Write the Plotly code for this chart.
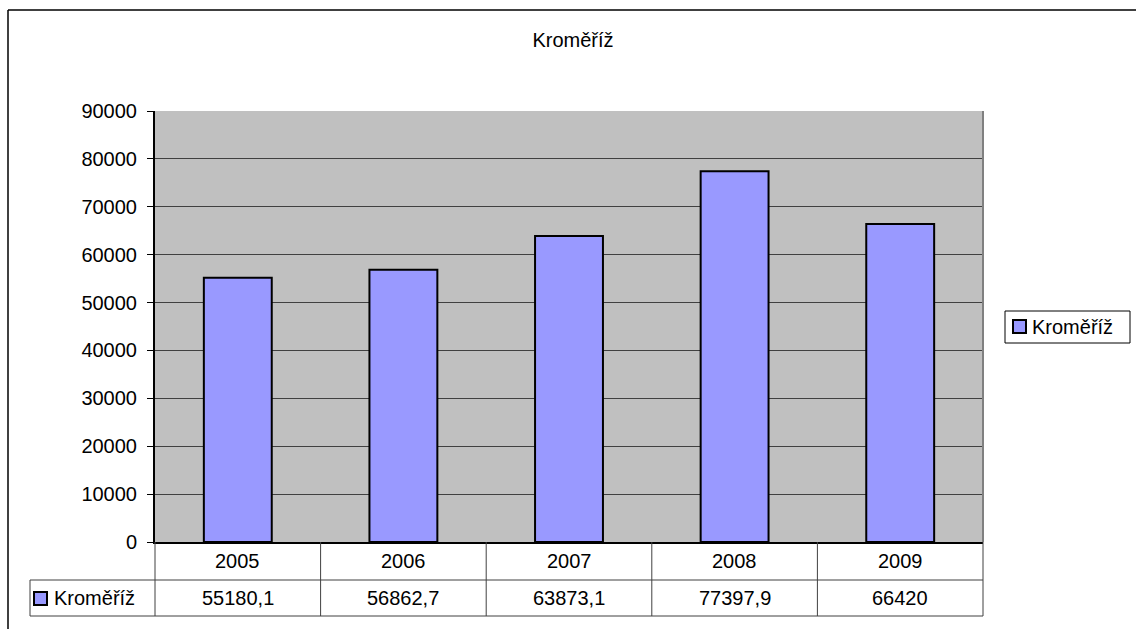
import plotly.graph_objects as go

# ---- data ----
years = ["2005", "2006", "2007", "2008", "2009"]
values = [55180.1, 56862.7, 63873.1, 77397.9, 66420]
series_name = "Kroměříž"
chart_title = "Kroměříž"
y_ticks = [0, 10000, 20000, 30000, 40000, 50000, 60000, 70000, 80000, 90000]

# ---- geometry (pixels) ----
W, H = 1136, 629
L, R, T, B = 155, 983, 111, 542

def px(x):
    return (x - L) / (R - L)

def py(y):
    return (B - y) / (B - T)

FONT = "Liberation Sans, Arial, sans-serif"
BAR = "#9999FF"
LINE = "#404040"

def fmt(v):
    return f"{v:g}".replace(".", ",")

fig = go.Figure(
    go.Bar(
        x=years,
        y=values,
        name=series_name,
        width=0.41,
        marker=dict(color=BAR, line=dict(color="black", width=2)),
        showlegend=False,
    )
)

shapes = []
annotations = []

# plot area right border
shapes.append(dict(type="line", xref="paper", yref="paper", x0=1, x1=1, y0=0, y1=1,
                   line=dict(color="#808080", width=2)))

# data table lines
for yy in (580, 616):
    shapes.append(dict(type="line", xref="paper", yref="paper", x0=px(30), x1=px(R),
                       y0=py(yy), y1=py(yy), line=dict(color=LINE, width=1)))
shapes.append(dict(type="line", xref="paper", yref="paper", x0=0, x1=0,
                   y0=py(B), y1=py(616), line=dict(color=LINE, width=1)))
shapes.append(dict(type="line", xref="paper", yref="paper", x0=1, x1=1,
                   y0=py(B), y1=py(616), line=dict(color=LINE, width=1)))
shapes.append(dict(type="line", xref="paper", yref="paper", x0=px(30), x1=px(30),
                   y0=py(580), y1=py(616), line=dict(color=LINE, width=1)))
for i in range(len(years) - 1):
    shapes.append(dict(type="line", xref="x", yref="paper", x0=i + 0.5, x1=i + 0.5,
                       y0=py(B), y1=py(616), line=dict(color=LINE, width=1)))

# table legend key
shapes.append(dict(type="rect", xref="paper", yref="paper", x0=px(34), x1=px(47),
                   y0=py(605), y1=py(592), fillcolor=BAR, line=dict(color="black", width=2)))
annotations.append(dict(text=series_name, xref="paper", yref="paper", x=px(52), y=py(598),
                        xanchor="left", yanchor="middle", showarrow=False,
                        font=dict(family=FONT, size=20, color="black")))

for i, (yr, v) in enumerate(zip(years, values)):
    annotations.append(dict(text=yr, xref="x", yref="paper", x=i, y=py(561),
                            xanchor="center", yanchor="middle", showarrow=False,
                            font=dict(family=FONT, size=20, color="black")))
    annotations.append(dict(text=fmt(v), xref="x", yref="paper", x=i, y=py(598),
                            xanchor="center", yanchor="middle", showarrow=False,
                            font=dict(family=FONT, size=20, color="black")))

# side legend (box, key, label)
shapes.append(dict(type="rect", xref="paper", yref="paper", x0=px(1005), x1=px(1130),
                   y0=py(343), y1=py(311), fillcolor="white", line=dict(color="black", width=1)))
shapes.append(dict(type="rect", xref="paper", yref="paper", x0=px(1013), x1=px(1026),
                   y0=py(333), y1=py(320), fillcolor=BAR, line=dict(color="black", width=2)))
annotations.append(dict(text=series_name, xref="paper", yref="paper", x=px(1030), y=py(327),
                        xanchor="left", yanchor="middle", showarrow=False,
                        font=dict(family=FONT, size=20, color="black")))

# outer chart border (left and top visible)
shapes.append(dict(type="line", xref="paper", yref="paper", x0=px(8), x1=px(8),
                   y0=py(10), y1=py(640), line=dict(color="black", width=1.5)))
shapes.append(dict(type="line", xref="paper", yref="paper", x0=px(8), x1=px(1140),
                   y0=py(10), y1=py(10), line=dict(color="black", width=1.5)))

fig.update_layout(
    width=W, height=H,
    margin=dict(l=L, r=W - R, t=T, b=H - B, pad=0),
    paper_bgcolor="white",
    plot_bgcolor="#C0C0C0",
    font=dict(family=FONT, size=20, color="black"),
    title=dict(text=chart_title, x=573 / W, y=1 - 40 / H, xref="container", yref="container",
               xanchor="center", yanchor="middle", font=dict(family=FONT, size=20, color="black")),
    showlegend=False,
    shapes=shapes,
    annotations=annotations,
)

fig.update_xaxes(type="category", range=[-0.5, len(years) - 0.5], showticklabels=False,
                 showline=True, linecolor="black", linewidth=2, ticks="", showgrid=False,
                 zeroline=False)
fig.update_yaxes(range=[0, 90000], tickvals=y_ticks, ticktext=[str(t) for t in y_ticks],
                 showgrid=True, gridcolor=LINE, gridwidth=1, ticks="outside", ticklen=6,
                 tickcolor="black", tickwidth=1, showline=True, linecolor="black", linewidth=2,
                 zeroline=False, ticklabelstandoff=6,
                 tickfont=dict(family=FONT, size=20, color="black"))

fig.write_html("out.html", config={"displayModeBar": False},
               post_script="document.body.style.margin='0';")
